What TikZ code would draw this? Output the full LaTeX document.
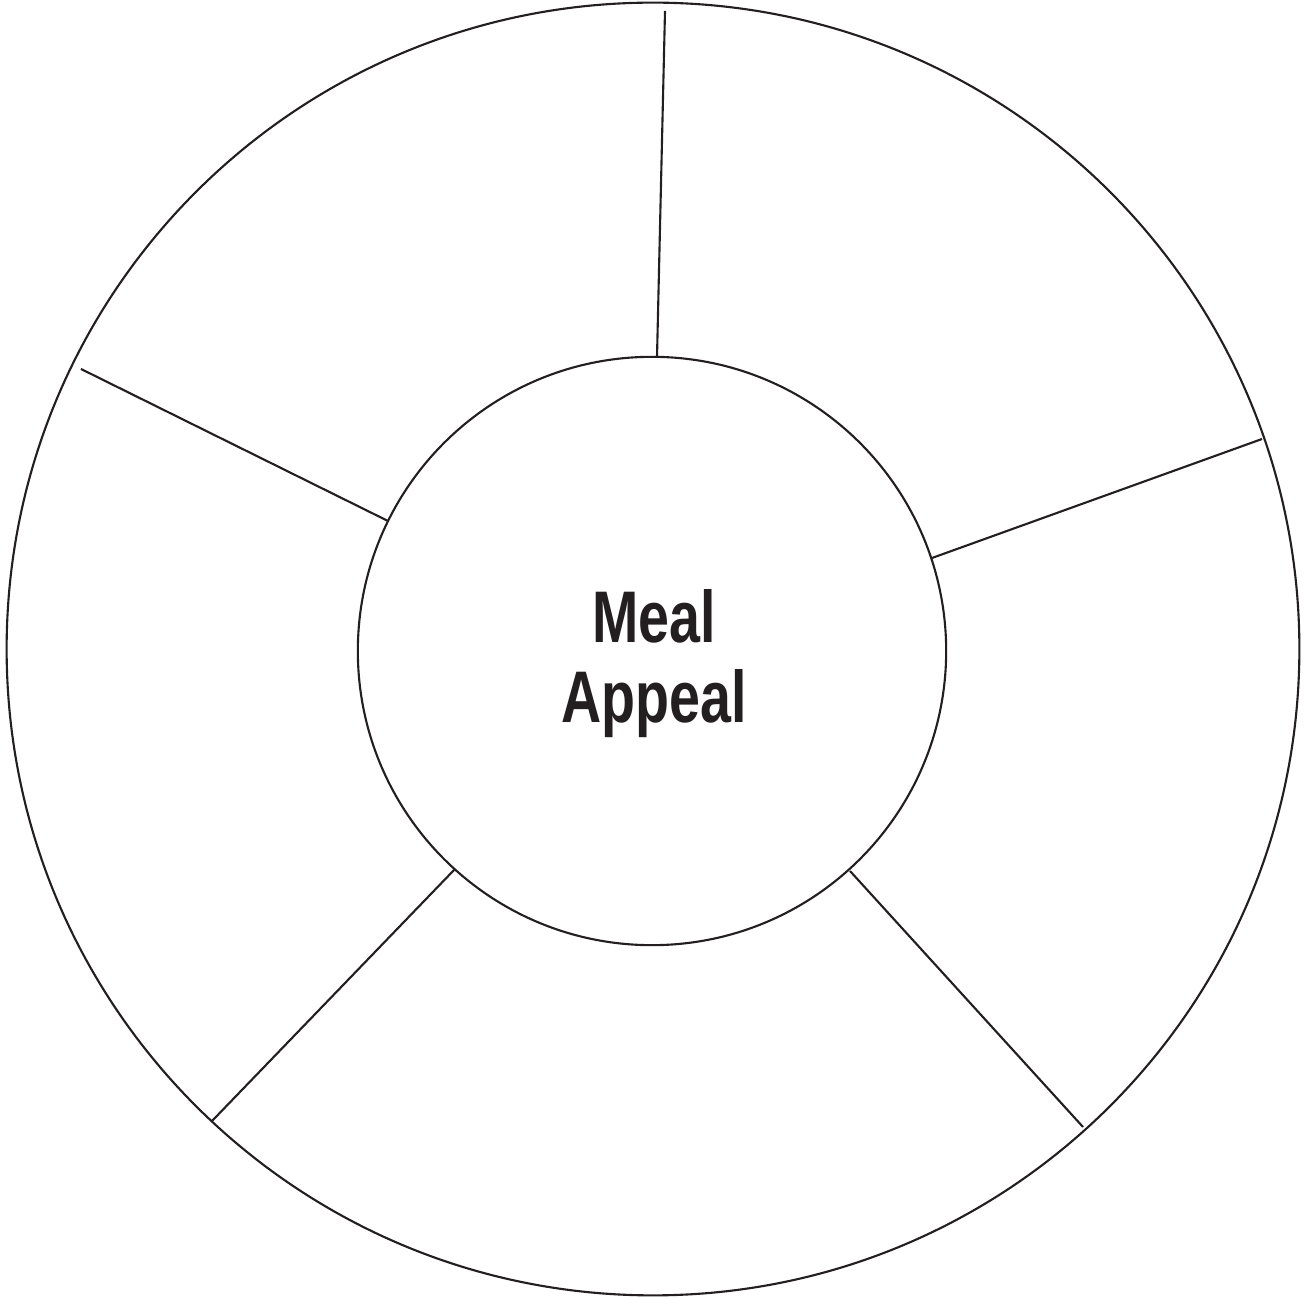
\documentclass[tikz,border=0pt]{standalone}
\usepackage{fontspec}
\setmainfont{Liberation Sans}
\definecolor{ink}{HTML}{231F20}
\begin{document}
\begin{tikzpicture}[x=0.01cm,y=-0.01cm,
  ring/.style={draw=ink,line width=0.6pt},
  spoke/.style={draw=ink,line width=0.6pt},
  label/.style={text=ink,inner sep=0pt,anchor=base,font=\fontsize{20.8pt}{24pt}\selectfont\bfseries}]
\useasboundingbox (0,0) rectangle (1306,1298);
\coordinate (oc) at (653,649);
\coordinate (ic) at (652,651);
\draw[ring] (oc) circle[radius=6.46cm];
\node[ring,circle,minimum size=5.88cm,inner sep=0pt] (inner) at (ic) {};
\coordinate (o1) at (665,11);
\coordinate (o2) at (1262,439);
\coordinate (o3) at (1083,1127);
\coordinate (o4) at (212,1121);
\coordinate (o5) at (81,369);
\coordinate (i1) at (657,357);
\coordinate (i2) at (932,558);
\coordinate (i3) at (850,871);
\coordinate (i4) at (455,869);
\coordinate (i5) at (388,521);
\foreach \k in {1,...,5} \draw[spoke] (i\k) -- (o\k);
\node[label] (meal) at (654,643) {\scalebox{0.76}[1]{Meal}};
\node[label] (appeal) at (654,723) {\scalebox{0.76}[1]{Appeal}};
\end{tikzpicture}
\end{document}
